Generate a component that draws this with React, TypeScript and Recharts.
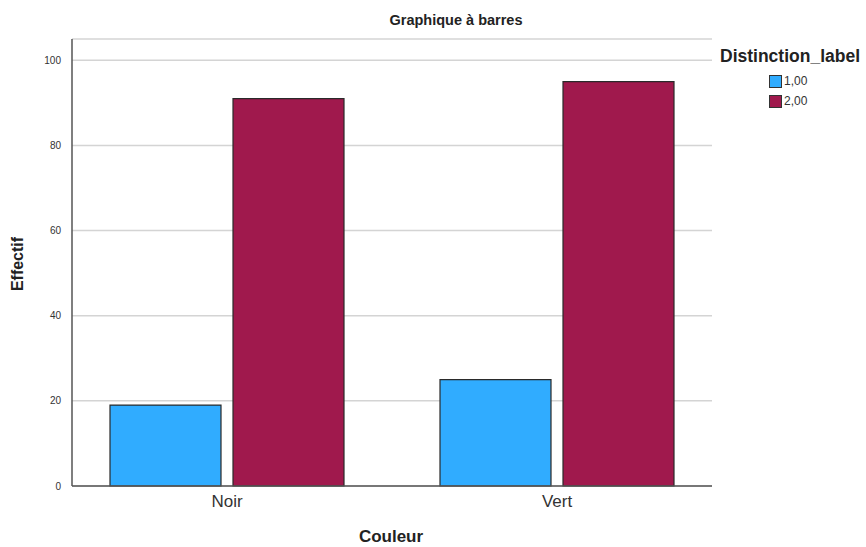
import { Bar, BarChart, CartesianGrid, XAxis, YAxis } from 'recharts';

const categories = ['Noir', 'Vert'];
const serie100 = [19, 25];
const serie200 = [91, 95];
const seriesNames = ['1,00', '2,00'];
const seriesColors = ['#30acff', '#a0194d'];
const yTicks = [0, 20, 40, 60, 80, 100];

const data = categories.map((c, i) => ({ couleur: c, s1: serie100[i], s2: serie200[i] }));

const font = '"Liberation Sans", Arial, sans-serif';

function LegendBox() {
  return (
    <div style={{ position: 'absolute', left: 720, top: 46, fontFamily: font, color: '#222' }}>
      <div style={{ fontWeight: 'bold', fontSize: 17.5, marginBottom: 5, lineHeight: '20px' }}>Distinction_label</div>
      {seriesNames.map((name, i) => (
        <div key={name} style={{ display: 'flex', alignItems: 'center', marginLeft: 49, height: 20 }}>
          <span
            style={{
              width: 11,
              height: 11,
              background: seriesColors[i],
              border: '1px solid #333',
              display: 'inline-block',
              marginRight: 2,
            }}
          />
          <span style={{ fontSize: 12, color: '#333' }}>{name}</span>
        </div>
      ))}
    </div>
  );
}

export default function App() {
  return (
    <div style={{ position: 'absolute', left: 0, top: 0, width: 866, height: 547, fontFamily: font, background: '#fff' }}>
      <BarChart
        width={866}
        height={547}
        data={data}
        margin={{ top: 39, right: 154, left: 0, bottom: 31 }}
        barCategoryGap={48}
        barGap={12}
      >
        <CartesianGrid horizontal vertical={false} stroke="#d4d4d4" strokeWidth={1.5} />
        <XAxis
          dataKey="couleur"
          tick={{ fill: '#333', fontSize: 17, fontFamily: font }}
          tickLine={false}
          tickMargin={3}
          axisLine={{ stroke: '#555', strokeWidth: 1.5 }}
          padding={{ left: -10, right: -10 }}
        />
        <YAxis
          width={72}
          domain={[0, 105]}
          ticks={yTicks}
          tick={{ fill: '#333', fontSize: 10, fontFamily: font }}
          tickLine={false}
          tickMargin={5}
          axisLine={{ stroke: '#555', strokeWidth: 1.5 }}
        />
        <Bar dataKey="s1" name={seriesNames[0]} fill={seriesColors[0]} stroke="#2a2a2a" strokeWidth={1.2} barSize={111} isAnimationActive={false} />
        <Bar dataKey="s2" name={seriesNames[1]} fill={seriesColors[1]} stroke="#2a2a2a" strokeWidth={1.2} barSize={111} isAnimationActive={false} />
      </BarChart>
      <div style={{ position: 'absolute', left: 0, width: 912, top: 12, textAlign: 'center', fontWeight: 'bold', fontSize: 14.5, color: '#222' }}>
        Graphique à barres
      </div>
      <div
        style={{
          position: 'absolute',
          left: 18,
          top: 264,
          transform: 'translate(-50%, -50%) rotate(-90deg)',
          fontWeight: 'bold',
          fontSize: 16,
          color: '#222',
          whiteSpace: 'nowrap',
        }}
      >
        Effectif
      </div>
      <div style={{ position: 'absolute', left: 0, width: 782, top: 527, textAlign: 'center', fontWeight: 'bold', fontSize: 17, color: '#222' }}>
        Couleur
      </div>
      <LegendBox />
    </div>
  );
}
